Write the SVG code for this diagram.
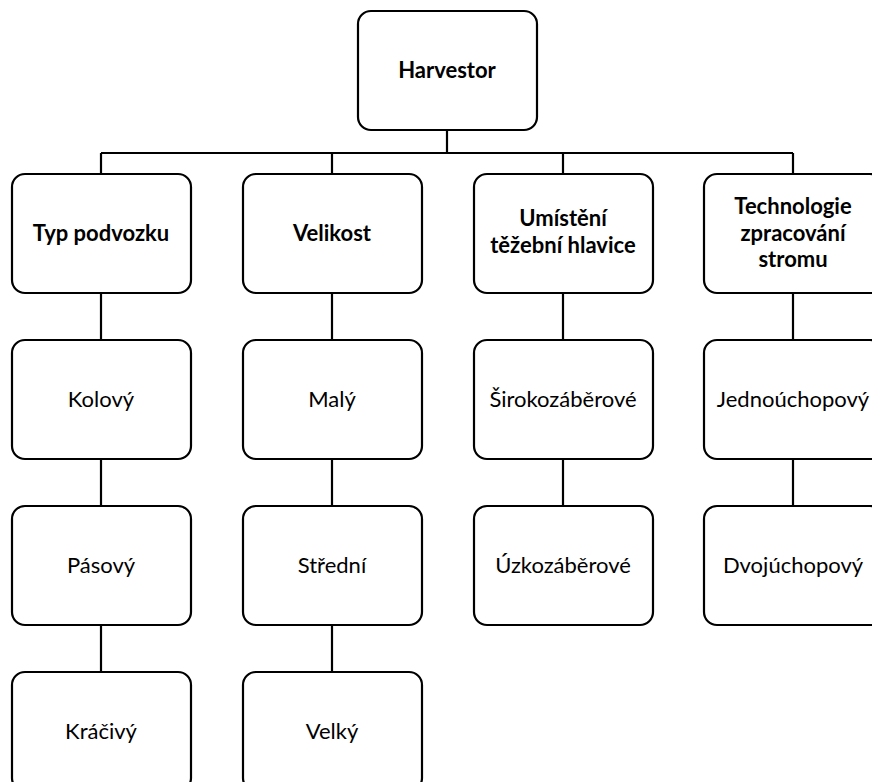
<svg xmlns="http://www.w3.org/2000/svg" width="872" height="782" viewBox="0 0 872 782">
<style>
.box{fill:#fff;stroke:#000;stroke-width:2.2}
.c{fill:none;stroke:#000;stroke-width:2.2}
text{font-family:"Lato","Open Sans","Liberation Sans",sans-serif;font-size:22px;fill:#000;text-anchor:middle}
.b{font-weight:bold}
</style>
<rect width="872" height="782" fill="#fff"/>
<g id="connectors">
<path class="c" d="M447 130V153M101 153H793M101 153V174M332 153V174M563 153V174M793 153V174"/>
<path class="c" d="M101 293V340M101 459V506M101 625V672"/>
<path class="c" d="M332 293V340M332 459V506M332 625V672"/>
<path class="c" d="M563 293V340M563 459V506"/>
<path class="c" d="M793 293V340M793 459V506"/>
</g>
<g id="harvestor"><rect class="box" x="358" y="11" width="179" height="119" rx="13"/><text class="b" x="447" y="78">Harvestor</text></g>
<g id="typ-podvozku"><rect class="box" x="12" y="174" width="179" height="119" rx="13"/><text class="b" x="101" y="241">Typ podvozku</text></g>
<g id="velikost"><rect class="box" x="243" y="174" width="179" height="119" rx="13"/><text class="b" x="332" y="241">Velikost</text></g>
<g id="umisteni"><rect class="box" x="474" y="174" width="179" height="119" rx="13"/><text class="b" x="563" y="226">Umístění</text><text class="b" x="563" y="253">těžební hlavice</text></g>
<g id="technologie"><rect class="box" x="704" y="174" width="179" height="119" rx="13"/><text class="b" x="793" y="214">Technologie</text><text class="b" x="793" y="240.5">zpracování</text><text class="b" x="793" y="267">stromu</text></g>
<g id="kolovy"><rect class="box" x="12" y="340" width="179" height="119" rx="13"/><text x="101" y="407">Kolový</text></g>
<g id="pasovy"><rect class="box" x="12" y="506" width="179" height="119" rx="13"/><text x="101" y="573">Pásový</text></g>
<g id="kracivy"><rect class="box" x="12" y="672" width="179" height="119" rx="13"/><text x="101" y="739">Kráčivý</text></g>
<g id="maly"><rect class="box" x="243" y="340" width="179" height="119" rx="13"/><text x="332" y="407">Malý</text></g>
<g id="stredni"><rect class="box" x="243" y="506" width="179" height="119" rx="13"/><text x="332" y="573">Střední</text></g>
<g id="velky"><rect class="box" x="243" y="672" width="179" height="119" rx="13"/><text x="332" y="739">Velký</text></g>
<g id="sirokozaberove"><rect class="box" x="474" y="340" width="179" height="119" rx="13"/><text x="563" y="407">Širokozáběrové</text></g>
<g id="uzkozaberove"><rect class="box" x="474" y="506" width="179" height="119" rx="13"/><text x="563" y="573">Úzkozáběrové</text></g>
<g id="jednouchopovy"><rect class="box" x="704" y="340" width="179" height="119" rx="13"/><text x="793" y="407">Jednoúchopový</text></g>
<g id="dvojuchopovy"><rect class="box" x="704" y="506" width="179" height="119" rx="13"/><text x="793" y="573">Dvojúchopový</text></g>
</svg>
